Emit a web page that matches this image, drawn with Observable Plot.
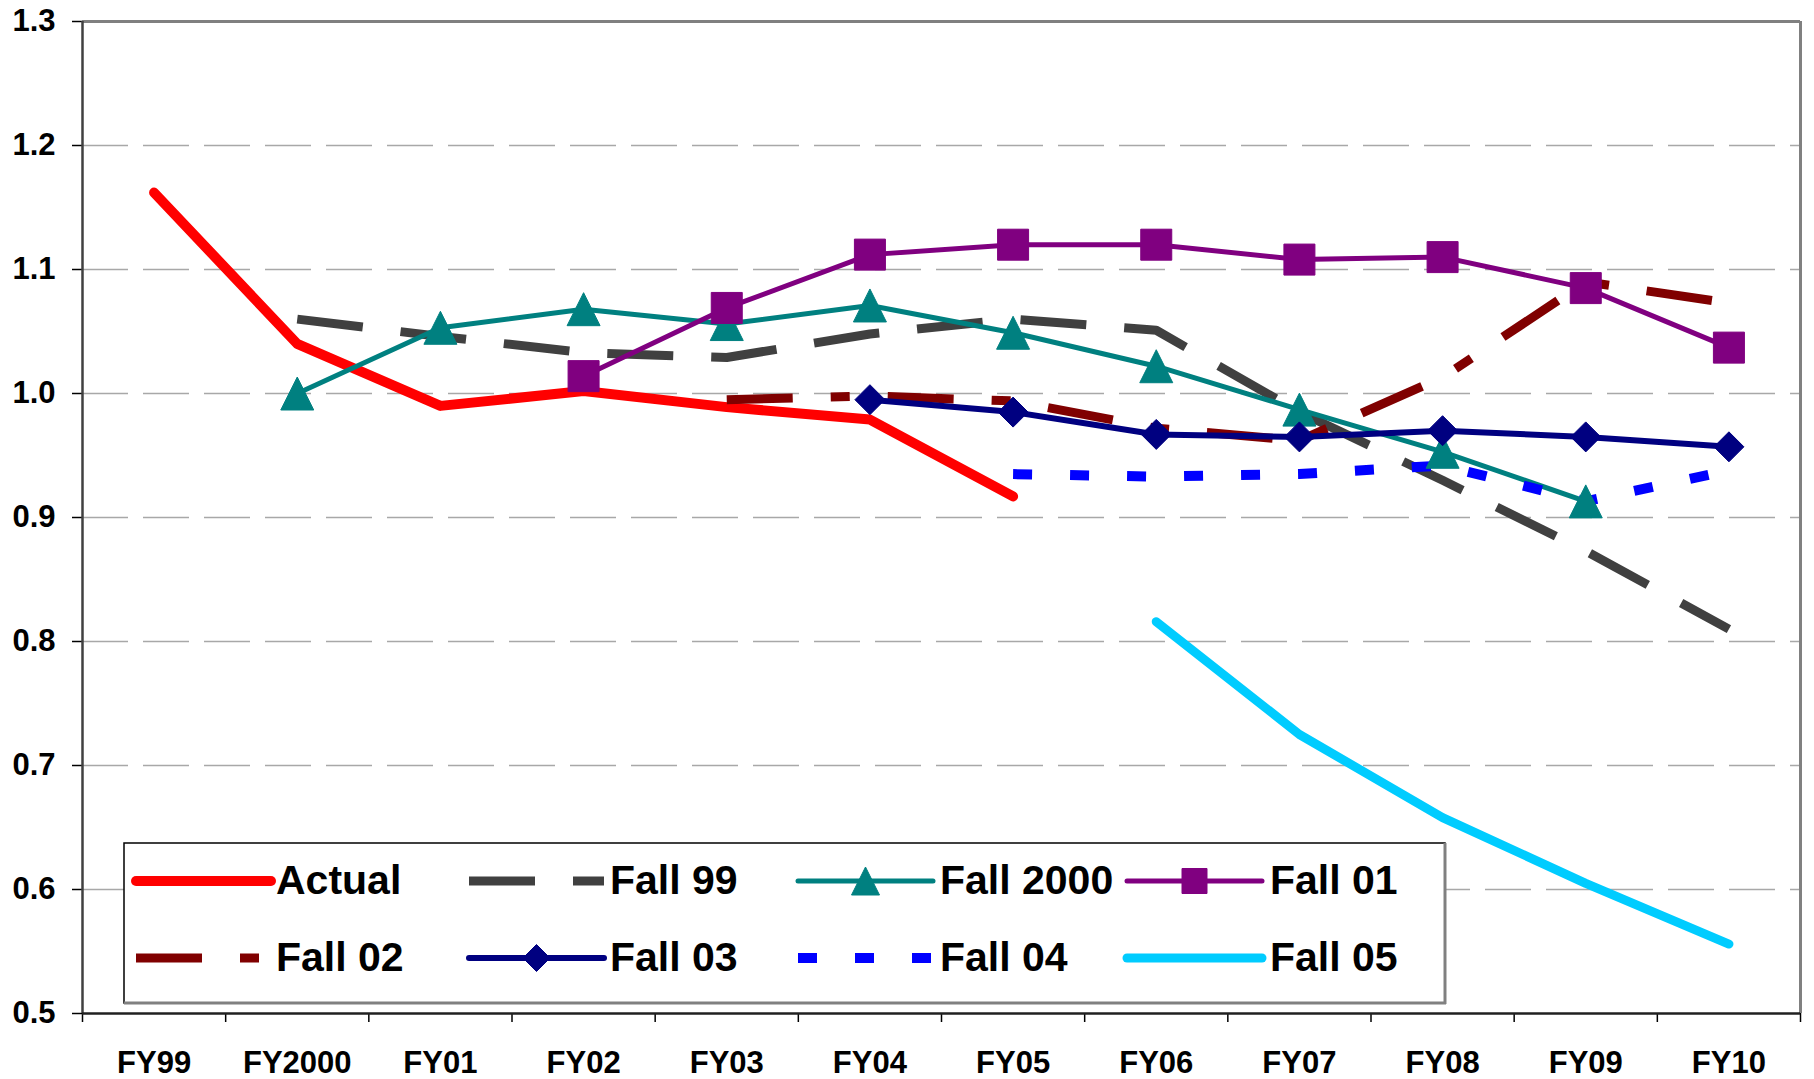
<!DOCTYPE html>
<html>
<head>
<meta charset="utf-8">
<script src="https://cdn.jsdelivr.net/npm/d3@7"></script>
<script src="https://cdn.jsdelivr.net/npm/@observablehq/plot@0.6"></script>
<style>
  html, body { margin: 0; padding: 0; background: #fff; }
  #wrap { position: relative; width: 1814px; height: 1079px; }
  #legend { position: absolute; left: 0; top: 0; pointer-events: none; }
</style>
</head>
<body>
<div id="wrap"></div>
<script>
// ---------- data ----------
const categories = ["FY99","FY2000","FY01","FY02","FY03","FY04","FY05","FY06","FY07","FY08","FY09","FY10"];
const yTicks = [0.5, 0.6, 0.7, 0.8, 0.9, 1.0, 1.1, 1.2, 1.3];
const gridTicks = [0.6, 0.7, 0.8, 0.9, 1.0, 1.1, 1.2];

const actual   = [1.162, 1.040, 0.990, 1.002, 0.989, 0.979, 0.917, null, null, null, null, null];
const fall99   = [null, 1.060, 1.046, 1.033, 1.029, 1.048, 1.060, 1.051, 0.985, 0.930, 0.873, 0.810];
const fall2000 = [null, 1.000, 1.053, 1.068, 1.056, 1.071, 1.049, 1.022, 0.987, 0.953, 0.913, null];
const fall01   = [null, null, null, 1.014, 1.069, 1.112, 1.120, 1.120, 1.108, 1.110, 1.085, 1.037];
const fall02   = [null, null, null, null, 0.995, 0.998, 0.994, 0.972, 0.962, 1.013, 1.090, 1.073];
const fall03   = [null, null, null, null, null, 0.995, 0.985, 0.967, 0.965, 0.970, 0.965, 0.957];
const fall04   = [null, null, null, null, null, null, 0.935, 0.933, 0.935, 0.942, 0.913, 0.938];
const fall05   = [null, null, null, null, null, null, null, 0.816, 0.725, 0.658, 0.605, 0.556];

const seriesNames = ["Actual","Fall 99","Fall 2000","Fall 01","Fall 02","Fall 03","Fall 04","Fall 05"];
const seriesValues = [actual, fall99, fall2000, fall01, fall02, fall03, fall04, fall05];

// ---------- symbols ----------
const triSym = {draw(ctx, size) { const s = Math.sqrt(size); ctx.moveTo(0, -s/2); ctx.lineTo(s/2, s/2); ctx.lineTo(-s/2, s/2); ctx.closePath(); }};
const diaSym = {draw(ctx, size) { const s = Math.sqrt(size); ctx.moveTo(0, -s/2); ctx.lineTo(s/2, 0); ctx.lineTo(0, s/2); ctx.lineTo(-s/2, 0); ctx.closePath(); }};
const sqSym  = {draw(ctx, size) { const s = Math.sqrt(size); ctx.rect(-s/2, -s/2, s, s); }};

// ---------- styles ----------
const styles = {
  "Actual":    {stroke: "#FF0000", width: 10, dash: null, cap: "round"},
  "Fall 99":   {stroke: "#404040", width: 9, dash: "66,38", cap: "butt"},
  "Fall 2000": {stroke: "#008080", width: 5, dash: null, cap: "round", symbol: triSym, side: 33, lside: 28},
  "Fall 01":   {stroke: "#800080", width: 5, dash: null, cap: "round", symbol: sqSym, side: 31, lside: 25},
  "Fall 02":   {stroke: "#800000", width: 9, dash: "66,38,19,38", cap: "butt"},
  "Fall 03":   {stroke: "#000080", width: 6, dash: null, cap: "round", symbol: diaSym, side: 30, lside: 27},
  "Fall 04":   {stroke: "#0000FF", width: 10, dash: "19,38", cap: "butt"},
  "Fall 05":   {stroke: "#00CCFF", width: 9, dash: null, cap: "round"}
};

const rows = [];
seriesNames.forEach((name, k) => {
  seriesValues[k].forEach((v, i) => { if (v != null) rows.push({series: name, i, cat: categories[i], v}); });
});

const lineMarks = seriesNames.map(name => {
  const st = styles[name];
  return Plot.line(rows.filter(d => d.series === name), {
    x: "i", y: "v", stroke: st.stroke, strokeWidth: st.width,
    strokeDasharray: st.dash || undefined, strokeLinecap: st.cap, strokeLinejoin: "round"
  });
});
const dotMarks = seriesNames.filter(n => styles[n].symbol).map(name => {
  const st = styles[name];
  return Plot.dot(rows.filter(d => d.series === name), {
    x: "i", y: "v", symbol: st.symbol, r: st.side / Math.sqrt(Math.PI),
    fill: st.stroke, stroke: st.stroke, strokeWidth: 1, strokeLinejoin: "round"
  });
});

const boundaries = d3.range(13).map(k => k - 0.5);
const fontFam = "'Liberation Sans', Arial, Helvetica, sans-serif";

const chart = Plot.plot({
  width: 1814, height: 1079,
  marginLeft: 82, marginRight: 14, marginTop: 21, marginBottom: 66,
  style: {fontFamily: fontFam, fontWeight: "bold", fontSize: "31px", color: "#000", background: "#fff", overflow: "visible"},
  x: {type: "linear", domain: [-0.5, 11.5], axis: null},
  y: {domain: [0.5, 1.3], axis: null},
  marks: [
    Plot.gridY(gridTicks, {stroke: "#a8a8a8", strokeOpacity: 1, strokeWidth: 1.6, strokeDasharray: "46,15"}),
    Plot.ruleY([1.3], {stroke: "#808080", strokeWidth: 3}),
    Plot.ruleX([11.5], {stroke: "#808080", strokeWidth: 3}),
    Plot.axisY(yTicks, {anchor: "left", tickSize: 10, tickPadding: 17, tickFormat: d => d.toFixed(1), label: null, fontSize: 31, fontWeight: "bold", stroke: "#000", strokeWidth: 1.5}),
    Plot.axisX(d3.range(12), {anchor: "bottom", tickSize: 0, tickPadding: 37, tickFormat: i => categories[i], label: null, fontSize: 31, fontWeight: "bold"}),
    Plot.axisX(boundaries, {anchor: "bottom", tickSize: 9, tickFormat: () => "", label: null, stroke: "#000", strokeWidth: 1.5}),
    Plot.ruleX([-0.5], {stroke: "#404040", strokeWidth: 2.5}),
    Plot.ruleY([0.5], {stroke: "#202020", strokeWidth: 2.5}),
    ...lineMarks,
    ...dotMarks
  ]
});
document.getElementById("wrap").appendChild(chart);

// ---------- legend (overlay inside plot area) ----------
const svg = d3.select("#wrap").append("svg").attr("id", "legend").attr("width", 1814).attr("height", 1079);
const bx = 124, by = 843, bw = 1321, bh = 160;
svg.append("rect").attr("x", bx).attr("y", by).attr("width", bw).attr("height", bh).attr("fill", "#fff").attr("stroke", "#000").attr("stroke-width", 1.5);
svg.append("line").attr("x1", bx).attr("x2", bx + bw + 1).attr("y1", by + bh).attr("y2", by + bh).attr("stroke", "#808080").attr("stroke-width", 3);
svg.append("line").attr("x1", bx + bw).attr("x2", bx + bw).attr("y1", by).attr("y2", by + bh + 1).attr("stroke", "#808080").attr("stroke-width", 3);

const colX = [136, 469, 798, 1127];
const textX = [276, 610, 940, 1270];
const rowY = [881, 958];
const sampleW = 135;
seriesNames.forEach((name, k) => {
  const st = styles[name];
  const c = k % 4, r = Math.floor(k / 4);
  const x0 = colX[c], y0 = rowY[r];
  const ln = svg.append("line").attr("x1", x0).attr("x2", x0 + sampleW).attr("y1", y0).attr("y2", y0)
    .attr("stroke", st.stroke).attr("stroke-width", st.width).attr("stroke-linecap", st.cap);
  if (st.dash) ln.attr("stroke-dasharray", st.dash);
  if (st.symbol) {
    const p = d3.path();
    st.symbol.draw(p, st.lside * st.lside);
    svg.append("path").attr("d", p.toString()).attr("transform", `translate(${x0 + sampleW / 2},${y0})`)
      .attr("fill", st.stroke).attr("stroke", st.stroke).attr("stroke-width", 1).attr("stroke-linejoin", "round");
  }
  svg.append("text").attr("x", textX[c]).attr("y", y0 + 13).text(name)
    .attr("font-family", fontFam).attr("font-weight", "bold").attr("font-size", 41).attr("fill", "#000");
});
</script>
</body>
</html>
